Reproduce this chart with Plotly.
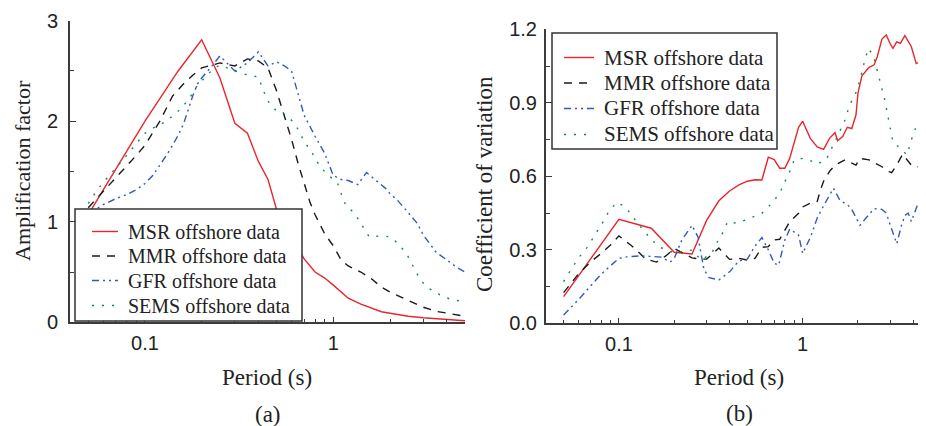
import plotly.graph_objects as go
import math

# ---------------- (a) Amplification factor ----------------
period_msr_a = [0.05, 0.1, 0.15, 0.2, 0.25, 0.3, 0.35, 0.4, 0.45, 0.5, 0.6, 0.7, 0.8, 0.9, 1.0,
                1.2, 1.4, 1.6, 1.8, 2.0, 2.5, 3.0, 4.0, 5.0]
amp_msr = [1.07, 2.0, 2.5, 2.81, 2.43, 1.98, 1.88, 1.60, 1.42, 1.12, 0.85, 0.63, 0.50, 0.44, 0.37,
           0.24, 0.18, 0.14, 0.105, 0.09, 0.06, 0.045, 0.03, 0.016]

period_mmr_a = [0.05, 0.06, 0.07, 0.08, 0.09, 0.1, 0.12, 0.14, 0.16, 0.18, 0.2, 0.25, 0.3, 0.35,
                0.4, 0.45, 0.5, 0.55, 0.6, 0.65, 0.7, 0.75, 0.8, 0.9, 1.0, 1.1, 1.2, 1.4, 1.6,
                1.8, 2.0, 2.5, 3.0, 3.5, 4.0, 5.0]
amp_mmr = [1.14, 1.30, 1.43, 1.55, 1.66, 1.76, 2.0, 2.25, 2.37, 2.46, 2.53, 2.58, 2.55, 2.62,
           2.60, 2.53, 2.30, 2.05, 1.82, 1.58, 1.38, 1.20, 1.07, 0.88, 0.76, 0.62, 0.56, 0.50,
           0.43, 0.35, 0.30, 0.22, 0.15, 0.11, 0.09, 0.06]

period_gfr_a = [0.05, 0.06, 0.07, 0.08, 0.09, 0.1, 0.11, 0.12, 0.13, 0.14, 0.15, 0.16, 0.17, 0.18,
                0.19, 0.2, 0.22, 0.25, 0.3, 0.35, 0.4, 0.45, 0.5, 0.55, 0.6, 0.65, 0.7, 0.8, 0.9,
                1.0, 1.1, 1.2, 1.35, 1.5, 1.7, 1.9, 2.0, 2.2, 2.5, 2.8, 3.0, 3.5, 4.0, 4.5, 5.0]
amp_gfr = [1.08, 1.17, 1.23, 1.27, 1.32, 1.38, 1.46, 1.56, 1.66, 1.76, 1.86, 1.97, 2.13, 2.26,
           2.37, 2.43, 2.52, 2.65, 2.50, 2.58, 2.69, 2.55, 2.59, 2.55, 2.50, 2.28, 2.06, 1.85, 1.68,
           1.46, 1.42, 1.41, 1.37, 1.49, 1.40, 1.33, 1.28, 1.21, 1.09, 0.98, 0.87, 0.70, 0.62, 0.55, 0.50]

period_sems_a = [0.05, 0.055, 0.06, 0.07, 0.08, 0.09, 0.1, 0.11, 0.13, 0.15, 0.17, 0.19, 0.2, 0.23,
                 0.25, 0.3, 0.35, 0.4, 0.42, 0.45, 0.5, 0.55, 0.6, 0.65, 0.7, 0.78, 0.85, 0.93,
                 1.05, 1.1, 1.16, 1.3, 1.43, 1.55, 1.8, 2.0, 2.25, 2.5, 2.7, 2.9, 3.2, 3.7, 4.3, 5.0]
amp_sems = [1.18, 1.30, 1.39, 1.53, 1.66, 1.78, 1.88, 1.93, 2.00, 2.10, 2.21, 2.36, 2.40, 2.52,
            2.56, 2.50, 2.46, 2.44, 2.33, 2.20, 2.10, 2.07, 2.01, 1.92, 1.80, 1.67, 1.55, 1.47,
            1.39, 1.28, 1.17, 1.08, 0.96, 0.85, 0.86, 0.85, 0.77, 0.65, 0.53, 0.42, 0.34, 0.27, 0.22, 0.21]

# ---------------- (b) Coefficient of variation ----------------
period_msr_b = [0.05, 0.1, 0.15, 0.2, 0.25, 0.3, 0.35, 0.4, 0.45, 0.5, 0.55, 0.6, 0.65, 0.7, 0.75,
                0.8, 0.85, 0.9, 0.95, 1.0, 1.05, 1.1, 1.2, 1.3, 1.4, 1.5, 1.55, 1.65, 1.75, 1.85,
                1.95, 2.0, 2.1, 2.3, 2.45, 2.55, 2.7, 2.85, 3.0, 3.1, 3.25, 3.4, 3.6, 3.9, 4.15,
                4.3, 4.55, 5.0]
cov_msr = [0.109, 0.424, 0.388, 0.29, 0.283, 0.42, 0.50, 0.54, 0.565, 0.58, 0.586, 0.585, 0.678,
           0.668, 0.633, 0.633, 0.673, 0.735, 0.80, 0.825, 0.79, 0.755, 0.72, 0.71, 0.755, 0.778,
           0.745, 0.762, 0.80, 0.795, 0.85, 0.94, 1.01, 1.045, 1.055, 1.09, 1.16, 1.177, 1.14,
           1.122, 1.149, 1.143, 1.174, 1.13, 1.06, 1.065, 1.12, 1.13]

period_mmr_b = [0.05, 0.06, 0.07, 0.08, 0.09, 0.1, 0.12, 0.14, 0.16, 0.18, 0.2, 0.22, 0.25, 0.28,
                0.3, 0.35, 0.4, 0.45, 0.5, 0.55, 0.6, 0.65, 0.7, 0.75, 0.8, 0.85, 0.95, 1.0, 1.1,
                1.2, 1.25, 1.3, 1.4, 1.5, 1.7, 1.85, 1.95, 2.05, 2.3, 2.45, 2.7, 2.95, 3.05, 3.25,
                3.5, 3.9, 4.2, 4.7]
cov_mmr = [0.125, 0.20, 0.25, 0.285, 0.32, 0.357, 0.31, 0.262, 0.250, 0.275, 0.305, 0.288, 0.267,
           0.262, 0.262, 0.307, 0.261, 0.265, 0.258, 0.265, 0.31, 0.313, 0.340, 0.343, 0.378,
           0.415, 0.449, 0.475, 0.49, 0.497, 0.545, 0.58, 0.62, 0.646, 0.667, 0.655, 0.646,
           0.673, 0.667, 0.655, 0.639, 0.619, 0.615, 0.646, 0.69, 0.646, 0.638, 0.646]

period_gfr_b = [0.05, 0.06, 0.07, 0.08, 0.09, 0.1, 0.11, 0.13, 0.15, 0.17, 0.19, 0.2, 0.22, 0.24,
                0.25, 0.27, 0.29, 0.31, 0.35, 0.4, 0.45, 0.5, 0.55, 0.6, 0.65, 0.7, 0.74, 0.8,
                0.85, 0.95, 1.0, 1.1, 1.2, 1.3, 1.47, 1.6, 1.75, 1.85, 2.05, 2.3, 2.45, 2.7, 2.85,
                3.0, 3.25, 3.45, 3.6, 3.75, 3.9, 4.2, 4.45, 4.7]
cov_gfr = [0.034, 0.095, 0.152, 0.20, 0.235, 0.265, 0.271, 0.275, 0.273, 0.27, 0.25, 0.265, 0.34,
           0.38, 0.40, 0.35, 0.22, 0.186, 0.177, 0.21, 0.255, 0.262, 0.315, 0.35, 0.30, 0.245,
           0.237, 0.34, 0.385, 0.36, 0.285, 0.35, 0.43, 0.48, 0.551, 0.50, 0.485, 0.465, 0.40,
           0.445, 0.468, 0.465, 0.45, 0.40, 0.325, 0.40, 0.44, 0.45, 0.415, 0.48, 0.51, 0.47]

period_sems_b = [0.05, 0.055, 0.06, 0.067, 0.073, 0.08, 0.087, 0.097, 0.108, 0.12, 0.133, 0.148,
                 0.164, 0.19, 0.22, 0.25, 0.28, 0.32, 0.34, 0.37, 0.39, 0.44, 0.5, 0.6, 0.68,
                 0.75, 0.8, 0.85, 0.9, 1.0, 1.07, 1.2, 1.34, 1.44, 1.56, 1.7, 1.8, 1.93, 2.05,
                 2.18, 2.27, 2.42, 2.63, 2.8, 2.96, 3.1, 3.4, 3.7, 3.9, 4.2, 4.45, 4.7]
cov_sems = [0.17, 0.22, 0.265, 0.309, 0.353, 0.40, 0.449, 0.494, 0.476, 0.429, 0.388, 0.347,
            0.313, 0.292, 0.292, 0.299, 0.258, 0.286, 0.327, 0.374, 0.415, 0.408, 0.424, 0.449,
            0.49, 0.531, 0.578, 0.619, 0.667, 0.673, 0.669, 0.65, 0.667, 0.714, 0.769, 0.83,
            0.891, 0.932, 0.993, 1.075, 1.122, 1.095, 0.993, 0.911, 0.816, 0.741, 0.714, 0.687,
            0.748, 0.816, 0.837, 0.83]

series_names = ["MSR offshore data", "MMR offshore data", "GFR offshore data", "SEMS offshore data"]
major_ticks = [0.1, 1]
major_labels = ["0.1", "1"]
minor_ticks = [0.05, 0.06, 0.07, 0.08, 0.09, 0.2, 0.3, 0.4, 0.5, 0.6, 0.7, 0.8, 0.9, 2, 3, 4]

# The page body has an 8px margin, so the figure is drawn 8px in from the window's corner.
OFF = 8
W, H = 926 - OFF, 426 - OFF
colors = ["#e8262c", "#1a1a1a", "#3558c0", "#16884a"]
dashes = ["solid", "8px,7px", "7px,4px,2px,4px,2px,4px", "2px,8px"]

fig = go.Figure()
data_a = [(period_msr_a, amp_msr), (period_mmr_a, amp_mmr), (period_gfr_a, amp_gfr), (period_sems_a, amp_sems)]
data_b = [(period_msr_b, cov_msr), (period_mmr_b, cov_mmr), (period_gfr_b, cov_gfr), (period_sems_b, cov_sems)]
for i, (x, y) in enumerate(data_a):
    fig.add_trace(go.Scatter(x=x, y=y, mode="lines", name=series_names[i], xaxis="x", yaxis="y",
                             line=dict(color=colors[i], width=1.4, dash=dashes[i]), showlegend=False))
for i, (x, y) in enumerate(data_b):
    fig.add_trace(go.Scatter(x=x, y=y, mode="lines", name=series_names[i], xaxis="x2", yaxis="y2",
                             line=dict(color=colors[i], width=1.4, dash=dashes[i]), showlegend=False))

def px(v):
    return (v - OFF) / W

def py(v):
    return 1 - (v - OFF) / H

axcol = "#3c3c3c"
tickfont = dict(family="Liberation Sans, Arial, sans-serif", size=20, color="#222")
common_x = dict(type="log", showgrid=False, zeroline=False, showline=True, linecolor=axcol, linewidth=1.6,
                ticks="inside", ticklen=6, tickwidth=1.2, tickcolor=axcol, tickvals=major_ticks,
                ticktext=major_labels, tickfont=tickfont, mirror=False, automargin=False,
                ticklabelstandoff=2,
                minor=dict(tickvals=minor_ticks, ticks="inside", ticklen=4, tickwidth=1, tickcolor=axcol, showgrid=False))
common_y = dict(showgrid=False, zeroline=False, showline=True, linecolor=axcol, linewidth=1.6,
                ticks="inside", ticklen=6, tickwidth=1.2, tickcolor=axcol, tickfont=tickfont, mirror=False,
                automargin=False)

fig.update_layout(
    width=W, height=H, margin=dict(l=0, r=0, t=0, b=0, autoexpand=False),
    paper_bgcolor="white", plot_bgcolor="white", showlegend=False,
    xaxis=dict(common_x, domain=[px(70), px(465)], range=[math.log10(0.04), math.log10(5)], anchor="y"),
    yaxis=dict(common_y, domain=[py(322.3), py(20.7)], range=[0, 3], tickvals=[0, 1, 2, 3],
               ticklabelstandoff=6,
               minor=dict(dtick=0.5, ticks="inside", ticklen=4, tickwidth=1, tickcolor=axcol), anchor="x"),
    xaxis2=dict(common_x, domain=[px(545.8), 1.0], range=[math.log10(0.04), math.log10(4.69)], anchor="y2"),
    yaxis2=dict(common_y, domain=[py(323.3), py(29.3)], range=[0, 1.2], tickvals=[0, 0.3, 0.6, 0.9, 1.2],
                tickformat=".1f", ticklabelstandoff=3,
                minor=dict(dtick=0.15, ticks="inside", ticklen=4, tickwidth=1, tickcolor=axcol),
                anchor="x2"),
)

# ---- legends (box, sample lines, labels) ----
legend_font_family = "Liberation Serif, Times New Roman, serif"
legend_boxes = [
    # box x0, x1, y0, y1, sample x0, x1, text x, row ys, font size
    (75, 302, 209, 321, 92, 118, 126, [231.5, 256, 280.5, 305.5], 20),
    (552, 777, 33, 149, 564, 594, 602, [57.5, 83, 108.5, 134.5], 21),
]
for bx0, bx1, by0, by1, sx0, sx1, tx, rows, fs in legend_boxes:
    fig.add_shape(type="rect", xref="paper", yref="paper", x0=px(bx0), x1=px(bx1), y0=py(by1), y1=py(by0),
                  fillcolor="white", line=dict(color="#333", width=1.5), layer="above")
    for i, ry in enumerate(rows):
        fig.add_shape(type="line", xref="paper", yref="paper", x0=px(sx0), x1=px(sx1), y0=py(ry), y1=py(ry),
                      line=dict(color=colors[i], width=1.4, dash=dashes[i]), layer="above")
        fig.add_annotation(text=series_names[i], x=px(tx), y=py(ry), xref="paper", yref="paper",
                           showarrow=False, xanchor="left", yanchor="middle",
                           font=dict(family=legend_font_family, size=fs, color="#222"))

tfont = dict(family="Liberation Serif, Times New Roman, serif", size=23, color="#222")
annos = [
    ("Amplification factor", 22, 171, -90, 22),
    ("Period (s)", 267, 377, 0, 23),
    ("(a)", 268, 414, 0, 23),
    ("Coefficient of variation", 484, 184, -90, 23),
    ("Period (s)", 739, 377, 0, 23),
    ("(b)", 739, 413, 0, 23),
]
for text, x, y, ang, fs in annos:
    fig.add_annotation(text=text, x=px(x), y=py(y), xref="paper", yref="paper", showarrow=False,
                       xanchor="center", yanchor="middle", textangle=ang,
                       font=dict(tfont, size=fs))

fig.write_html("out.html")
